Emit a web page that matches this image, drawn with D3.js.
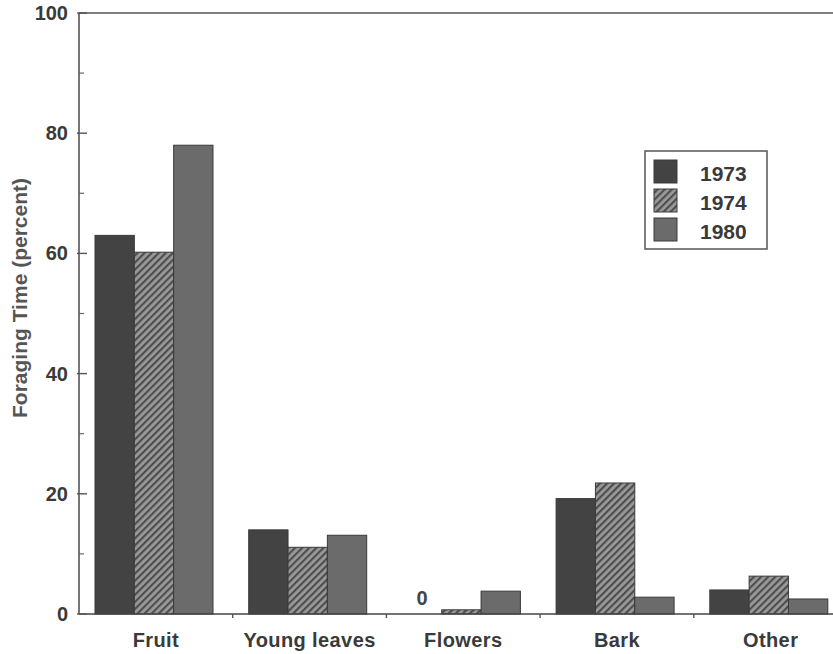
<!DOCTYPE html>
<html><head><meta charset="utf-8">
<script src="https://cdn.jsdelivr.net/npm/d3@7"></script>
<style>body{margin:0;background:#fff}svg{display:block}</style>
</head><body>
<svg id="c" width="833" height="654"></svg>
<script>
const categories = ["Fruit", "Young leaves", "Flowers", "Bark", "Other"];
const years = ["1973", "1974", "1980"];
const v1973 = [63, 14, 0, 19.2, 4.0];
const v1974 = [60.2, 11.1, 0.7, 21.8, 6.3];
const v1980 = [78, 13.1, 3.8, 2.8, 2.5];
const yTicks = [0, 20, 40, 60, 80, 100];
const yMinor = [10, 30, 50, 70, 90];
const zeroLabels = [{cat: "Flowers", year: "1973", text: "0"}];

(function () {
const series = [v1973, v1974, v1980];
const svg = d3.select("#c");
const font = "'Liberation Sans', Arial, Helvetica, sans-serif";

const defs = svg.append("defs");
const hatch = defs.append("pattern").attr("id", "hatch").attr("patternUnits", "userSpaceOnUse")
  .attr("width", 5).attr("height", 5).attr("patternTransform", "rotate(45)");
hatch.append("rect").attr("width", 5).attr("height", 5).attr("fill", "#9a9a9a");
hatch.append("rect").attr("width", 2.2).attr("height", 5).attr("fill", "#4e4e4e");

const fills = {"1973": "#434343", "1974": "url(#hatch)", "1980": "#6b6b6b"};

const axX = 79, yTop = 13, yBot = 614;
const y = d3.scaleLinear().domain([0, 100]).range([yBot, yTop]);
const x0 = d3.scaleBand().domain(categories).range([axX, axX + 5 * 153.7]).padding(0);
const x1 = d3.scaleBand().domain(years).range([16, 134]).padding(0);

const g = svg.append("g");
categories.forEach((c, i) => {
  years.forEach((yr, j) => {
    const v = series[j][i];
    if (v <= 0) return;
    g.append("rect")
      .attr("x", x0(c) + x1(yr))
      .attr("y", y(v))
      .attr("width", x1.bandwidth())
      .attr("height", y(0) - y(v))
      .attr("fill", fills[yr])
      .attr("stroke", "#3a3a3a").attr("stroke-width", 1);
  });
});

zeroLabels.forEach(z => {
  svg.append("text").attr("x", x0(z.cat) + x1(z.year) + x1.bandwidth() / 2)
    .attr("y", y(0) - 9).attr("text-anchor", "middle")
    .attr("font-family", font).attr("font-weight", "bold").attr("font-size", 20)
    .attr("fill", "#444").text(z.text);
});

svg.append("line").attr("x1", axX).attr("x2", 833).attr("y1", yTop).attr("y2", yTop)
  .attr("stroke", "#555").attr("stroke-width", 1.6);
svg.append("line").attr("x1", axX).attr("x2", axX).attr("y1", yTop).attr("y2", yBot)
  .attr("stroke", "#555").attr("stroke-width", 1.6);
svg.append("line").attr("x1", axX).attr("x2", 833).attr("y1", yBot).attr("y2", yBot)
  .attr("stroke", "#444").attr("stroke-width", 1.6);

const yAxis = d3.axisLeft(y).tickValues(yTicks).tickSize(0).tickPadding(11);
const ya = svg.append("g").attr("transform", `translate(${axX},0)`).call(yAxis);
ya.select(".domain").remove();
ya.selectAll("text").attr("font-family", font).attr("font-weight", "bold")
  .attr("font-size", 20).attr("fill", "#3a3a3a");
yTicks.forEach(t => svg.append("line").attr("x1", axX - 2).attr("x2", axX + 8)
  .attr("y1", y(t)).attr("y2", y(t)).attr("stroke", "#555").attr("stroke-width", 1.4));
yMinor.forEach(t => svg.append("line").attr("x1", axX).attr("x2", axX + 5)
  .attr("y1", y(t)).attr("y2", y(t)).attr("stroke", "#666").attr("stroke-width", 1.2));

const xa = svg.append("g").attr("transform", `translate(0,${yBot})`)
  .call(d3.axisBottom(x0).tickSize(0));
xa.select(".domain").remove();
xa.selectAll("text").attr("y", 33).attr("dy", null).attr("font-family", font).attr("font-weight", "bold")
  .attr("font-size", 20).attr("letter-spacing", 0.4).attr("fill", "#3a3a3a");
categories.slice(1).forEach(c => svg.append("line").attr("x1", x0(c)).attr("x2", x0(c))
  .attr("y1", yBot).attr("y2", yBot + 4).attr("stroke", "#555").attr("stroke-width", 1.4));

svg.append("text").attr("transform", "translate(27,298) rotate(-90)")
  .attr("text-anchor", "middle").attr("font-family", font).attr("font-size", 21)
  .attr("font-weight", "bold").attr("fill", "#555").text("Foraging Time (percent)");

const lg = svg.append("g").attr("transform", "translate(645,151)");
lg.append("rect").attr("width", 122).attr("height", 98).attr("fill", "#fff")
  .attr("stroke", "#555").attr("stroke-width", 1.5);
years.forEach((yr, j) => {
  lg.append("rect").attr("x", 9).attr("y", 9 + j * 29).attr("width", 23).attr("height", 23)
    .attr("fill", fills[yr]).attr("stroke", "#3a3a3a");
  lg.append("text").attr("x", 55).attr("y", 30 + j * 29).attr("font-family", font)
    .attr("font-weight", "bold").attr("font-size", 21).attr("fill", "#3a3a3a").text(yr);
});
})();
</script>
</body></html>
